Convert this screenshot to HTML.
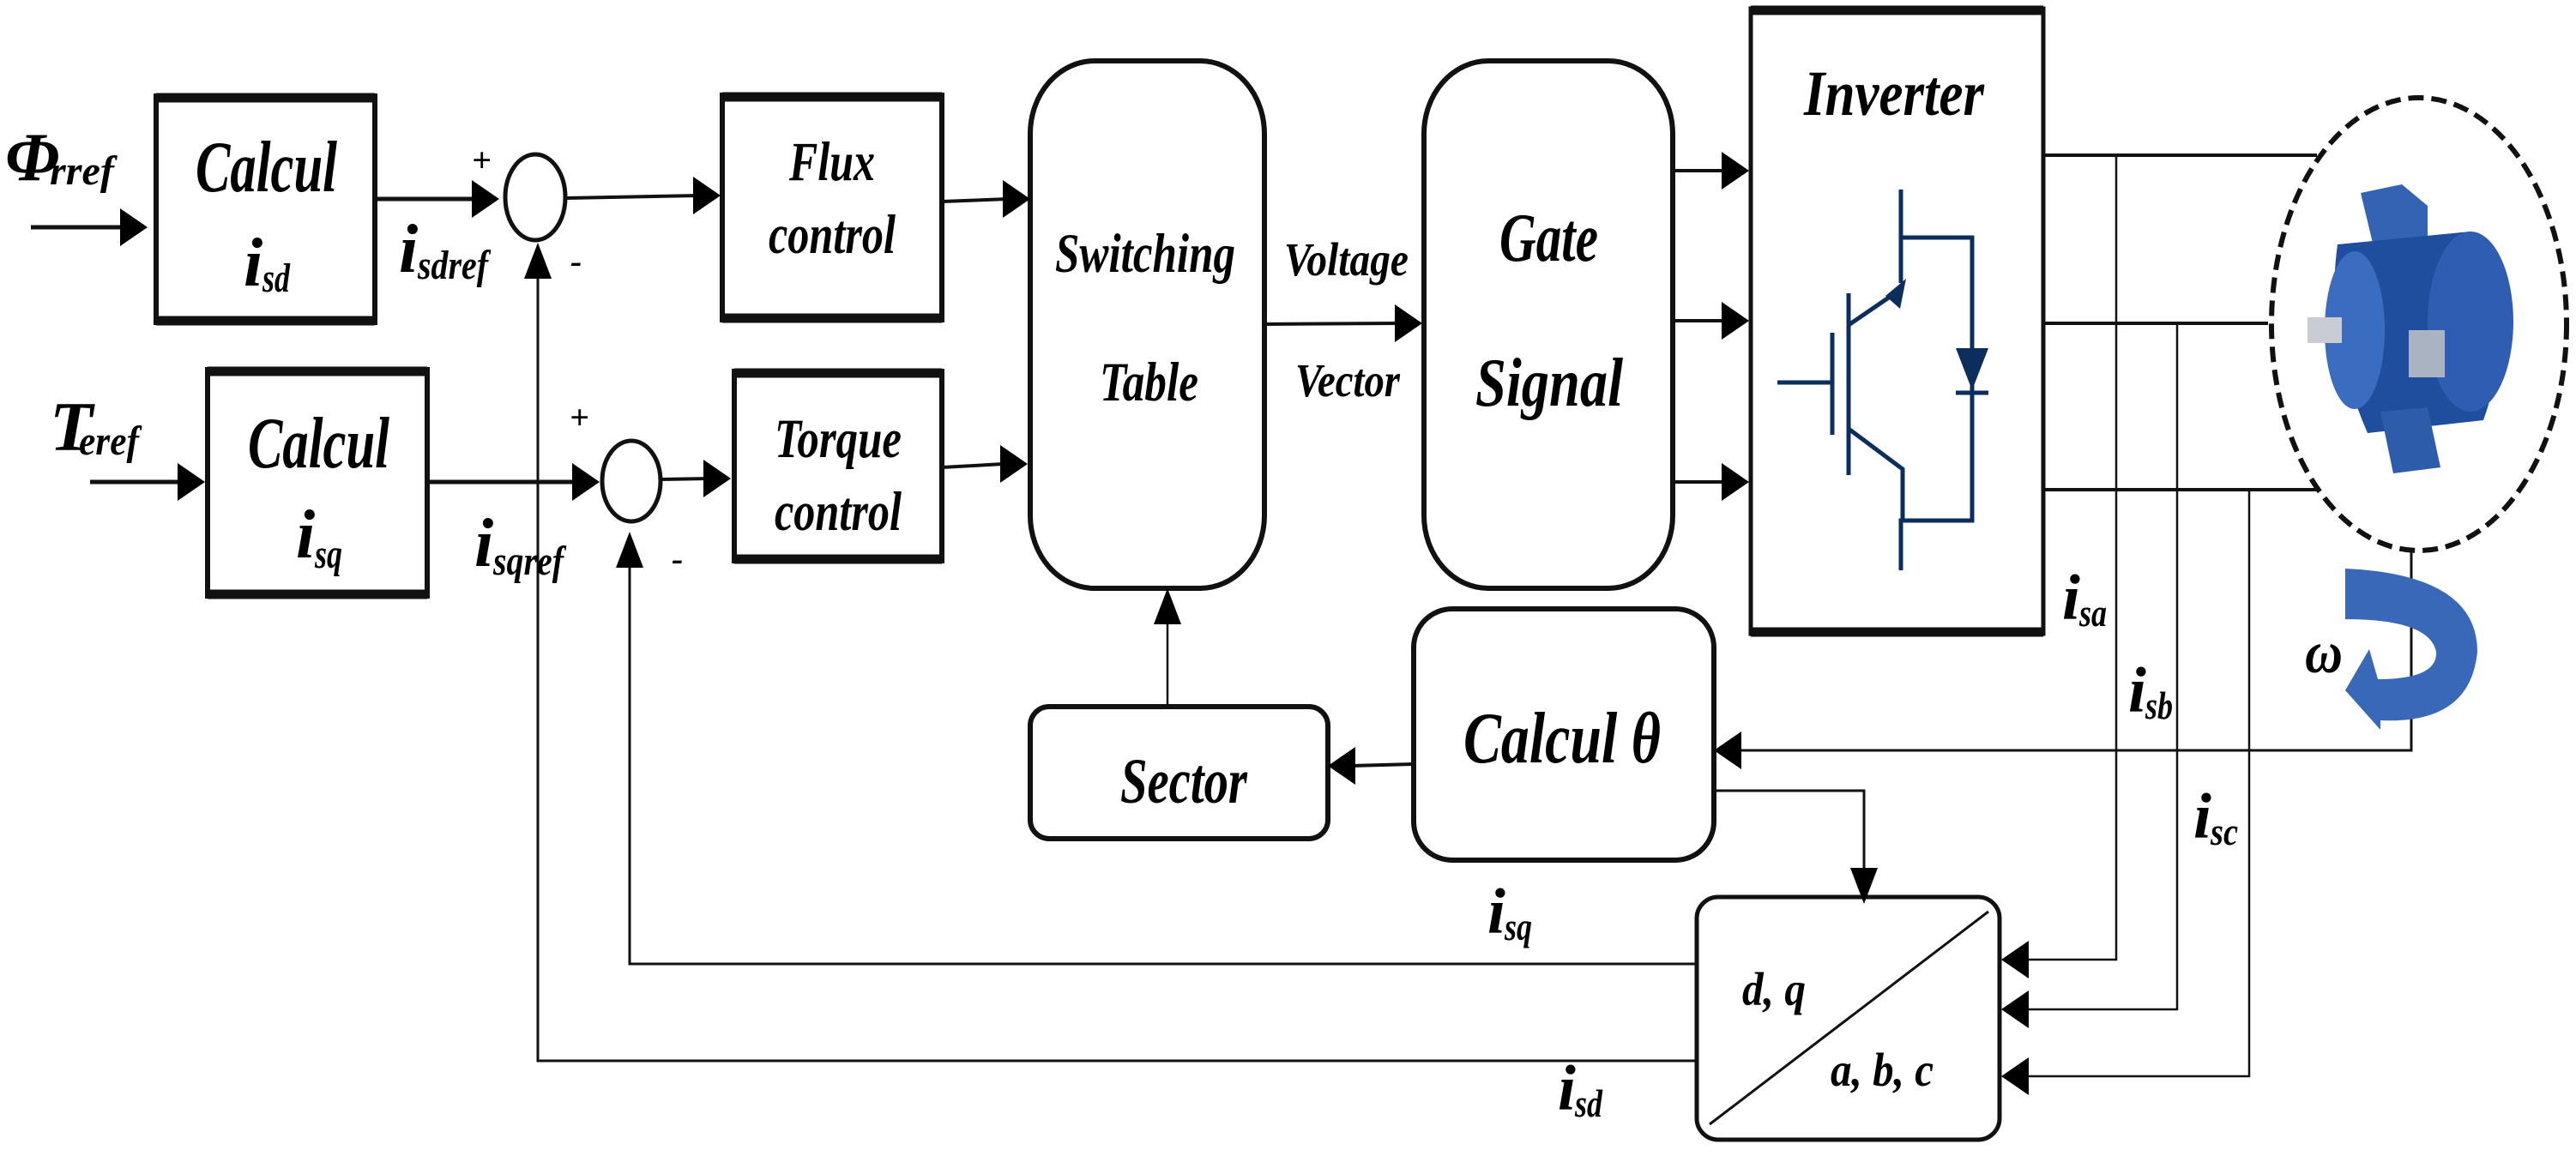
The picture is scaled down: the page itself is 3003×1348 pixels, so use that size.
<!DOCTYPE html>
<html><head><meta charset="utf-8"><style>
html,body{margin:0;padding:0;background:#fff;}
svg{display:block;}
text{font-family:"Liberation Serif",serif;font-style:italic;font-weight:bold;fill:#000;}
</style></head><body>
<svg width="3003" height="1348" viewBox="0 0 3003 1348" xmlns="http://www.w3.org/2000/svg">
<g fill="none" stroke="#111">
<!-- boxes -->
<rect x="182" y="112" width="255" height="264" stroke-width="6"/>
<rect x="242" y="431" width="256" height="264" stroke-width="6"/>
<rect x="842" y="111" width="256" height="262" stroke-width="6"/>
<rect x="856" y="433" width="242" height="221" stroke-width="6"/>
<rect x="1201" y="71" width="273" height="615" rx="75" ry="85" stroke-width="6"/>
<rect x="1660" y="71" width="290" height="615" rx="75" ry="85" stroke-width="6"/>
<rect x="2041" y="10" width="341" height="729" stroke-width="5"/>
<rect x="1201" y="824" width="347" height="154" rx="22" ry="22" stroke-width="6"/>
<rect x="1648" y="710" width="350" height="293" rx="45" ry="45" stroke-width="6"/>
<rect x="1978" y="1046" width="353" height="283" rx="25" ry="25" stroke-width="5"/>
<line x1="1993" y1="1311" x2="2318" y2="1063" stroke-width="3"/>
<!-- thick top/bottom edges -->
<g stroke-width="11">
<line x1="182" y1="114" x2="437" y2="114"/><line x1="182" y1="374" x2="437" y2="374"/>
<line x1="242" y1="433" x2="498" y2="433"/><line x1="242" y1="693" x2="498" y2="693"/>
<line x1="842" y1="113" x2="1098" y2="113"/><line x1="842" y1="371" x2="1098" y2="371"/>
<line x1="856" y1="435" x2="1098" y2="435"/><line x1="856" y1="652" x2="1098" y2="652"/>
<line x1="2041" y1="12" x2="2382" y2="12"/><line x1="2041" y1="737" x2="2382" y2="737"/>
</g>
<!-- summing circles -->
<ellipse cx="624" cy="230" rx="35" ry="50" stroke-width="5"/>
<ellipse cx="736" cy="561" rx="34" ry="47" stroke-width="5"/>
<!-- main lines -->
<line x1="36" y1="265" x2="150" y2="265" stroke-width="5"/>
<line x1="437" y1="232" x2="560" y2="232" stroke-width="5"/>
<line x1="660" y1="231" x2="815" y2="228" stroke-width="4"/>
<line x1="1098" y1="235" x2="1175" y2="232" stroke-width="4"/>
<line x1="105" y1="562" x2="215" y2="562" stroke-width="5"/>
<line x1="498" y1="562" x2="675" y2="562" stroke-width="5"/>
<line x1="770" y1="559" x2="828" y2="558" stroke-width="4"/>
<line x1="1098" y1="545" x2="1170" y2="541" stroke-width="4"/>
<line x1="1474" y1="378" x2="1630" y2="377" stroke-width="4"/>
<line x1="1950" y1="199" x2="2012" y2="199" stroke-width="4"/>
<line x1="1950" y1="374" x2="2012" y2="374" stroke-width="4"/>
<line x1="1950" y1="562" x2="2012" y2="562" stroke-width="4"/>
<!-- feedback -->
<polyline points="627,320 627,1237 1978,1237" stroke-width="3"/>
<polyline points="734,655 734,1124 1978,1124" stroke-width="3"/>
<line x1="1361" y1="824" x2="1361" y2="720" stroke-width="2.5"/>
<line x1="1648" y1="891" x2="1575" y2="893" stroke-width="4"/>
<polyline points="2811,643 2811,875 2025,875" stroke-width="3"/>
<polyline points="1998,922 2173,922 2173,1020" stroke-width="3"/>
<!-- outputs -->
<line x1="2382" y1="181" x2="2701" y2="181" stroke-width="4"/>
<line x1="2382" y1="377" x2="2644" y2="377" stroke-width="4"/>
<line x1="2382" y1="571" x2="2701" y2="571" stroke-width="4"/>
<polyline points="2467,181 2467,1119 2360,1119" stroke-width="2.5"/>
<polyline points="2538,377 2538,1177 2360,1177" stroke-width="2.5"/>
<polyline points="2622,571 2622,1255 2360,1255" stroke-width="2.5"/>
<!-- motor ellipse -->
<ellipse cx="2820" cy="378" rx="172" ry="264" stroke-width="6" stroke-dasharray="18,9"/>
</g>
<!-- arrowheads -->
<g fill="#000">
<polygon points="140,243 172,265 140,287"/>
<polygon points="550,210 582,232 550,254"/>
<polygon points="808,206 840,228 808,250"/>
<polygon points="1169,210 1201,232 1169,254"/>
<polygon points="207,540 239,562 207,584"/>
<polygon points="667,540 699,562 667,584"/>
<polygon points="820,536 852,558 820,580"/>
<polygon points="1166,519 1198,541 1166,563"/>
<polygon points="1626,355 1658,377 1626,399"/>
<polygon points="2007,177 2039,199 2007,221"/>
<polygon points="2007,352 2039,374 2007,396"/>
<polygon points="2007,540 2039,562 2007,584"/>
<polygon points="611,325 627,283 643,325"/>
<polygon points="718,662 734,620 750,662"/>
<polygon points="1345,728 1361,686 1377,728"/>
<polygon points="1580,871 1548,893 1580,915"/>
<polygon points="2030,853 1998,875 2030,897"/>
<polygon points="2157,1012 2173,1054 2189,1012"/>
<polygon points="2365,1097 2333,1119 2365,1141"/>
<polygon points="2365,1155 2333,1177 2365,1199"/>
<polygon points="2365,1233 2333,1255 2365,1277"/>
</g>
<!-- IGBT symbol -->
<g fill="none" stroke="#0b2e5c" stroke-width="5">
<polyline points="2216,221 2216,277 2299,277 2299,607 2216,607 2216,665"/>
<line x1="2216" y1="277" x2="2216" y2="330"/>
<line x1="2155" y1="379" x2="2212" y2="340"/>
<line x1="2155" y1="342" x2="2155" y2="554"/>
<line x1="2136" y1="388" x2="2136" y2="507"/>
<line x1="2072" y1="446" x2="2136" y2="446"/>
<polyline points="2155,500 2218,547 2218,607"/>
<line x1="2280" y1="458" x2="2318" y2="458"/>
</g>
<polygon points="2198,345 2222,325 2215,360" fill="#0b2e5c"/>
<polygon points="2280,406 2318,406 2299,455" fill="#0b2e5c"/>
<!-- motor picture approximation -->
<g>
<path d="M2752,225 L2800,215 L2830,240 L2830,290 L2770,300 Z" fill="#3563b3"/>
<path d="M2725,285 L2880,270 Q2935,380 2895,490 L2760,505 Q2710,390 2725,285Z" fill="#1f4e9e"/>
<ellipse cx="2880" cy="375" rx="50" ry="105" fill="#2e5db2"/>
<ellipse cx="2745" cy="385" rx="35" ry="92" fill="#3a6cc0"/>
<rect x="2808" y="385" width="42" height="55" fill="#aab3c2"/>
<rect x="2690" y="370" width="40" height="30" fill="#c9ccd2"/>
<path d="M2775,480 L2830,475 L2845,545 L2790,552Z" fill="#2d5cab"/>
</g>
<!-- rotation arrow -->
<path d="M2734,663 Q2888,670 2888,760 Q2880,845 2775,840 L2775,851 L2734,805 L2762,757 L2772,792 Q2842,792 2840,760 Q2832,722 2734,722Z" fill="#3a68b8"/>
<!-- texts -->
<text x="6" y="210" font-size="80" font-style="normal">Φ</text>
<text x="58" y="215" font-size="48" textLength="75" lengthAdjust="spacingAndGlyphs">rref</text>
<text x="58" y="525" font-size="82">T</text>
<text x="92" y="530" font-size="48" textLength="70" lengthAdjust="spacingAndGlyphs">eref</text>
<text x="228" y="223" font-size="85" textLength="165" lengthAdjust="spacingAndGlyphs">Calcul</text>
<text x="284" y="333" font-size="80">i</text>
<text x="306" y="340" font-size="48" textLength="32" lengthAdjust="spacingAndGlyphs">sd</text>
<text x="289" y="545" font-size="85" textLength="165" lengthAdjust="spacingAndGlyphs">Calcul</text>
<text x="345" y="650" font-size="80">i</text>
<text x="367" y="662" font-size="48" textLength="32" lengthAdjust="spacingAndGlyphs">sq</text>
<text x="465" y="317" font-size="80">i</text>
<text x="487" y="325" font-size="48" textLength="82" lengthAdjust="spacingAndGlyphs">sdref</text>
<text x="553" y="660" font-size="80">i</text>
<text x="575" y="670" font-size="48" textLength="82" lengthAdjust="spacingAndGlyphs">sqref</text>
<text x="550" y="200" font-size="40" font-style="normal" font-weight="normal">+</text>
<text x="664" y="500" font-size="40" font-style="normal" font-weight="normal">+</text>
<text x="665" y="318" font-size="40">-</text>
<text x="783" y="665" font-size="40">-</text>
<text x="920" y="210" font-size="65" textLength="100" lengthAdjust="spacingAndGlyphs">Flux</text>
<text x="896" y="295" font-size="65" textLength="148" lengthAdjust="spacingAndGlyphs">control</text>
<text x="903" y="533" font-size="65" textLength="148" lengthAdjust="spacingAndGlyphs">Torque</text>
<text x="903" y="618" font-size="65" textLength="148" lengthAdjust="spacingAndGlyphs">control</text>
<text x="1230" y="317" font-size="65" textLength="210" lengthAdjust="spacingAndGlyphs">Switching</text>
<text x="1282" y="467" font-size="65" textLength="115" lengthAdjust="spacingAndGlyphs">Table</text>
<text x="1497" y="321" font-size="55" textLength="145" lengthAdjust="spacingAndGlyphs">Voltage</text>
<text x="1510" y="462" font-size="55" textLength="122" lengthAdjust="spacingAndGlyphs">Vector</text>
<text x="1748" y="304" font-size="80" textLength="115" lengthAdjust="spacingAndGlyphs">Gate</text>
<text x="1720" y="473" font-size="80" textLength="172" lengthAdjust="spacingAndGlyphs">Signal</text>
<text x="2103" y="134" font-size="75" textLength="210" lengthAdjust="spacingAndGlyphs">Inverter</text>
<text x="1306" y="936" font-size="75" textLength="148" lengthAdjust="spacingAndGlyphs">Sector</text>
<text x="1706" y="889" font-size="85" textLength="230" lengthAdjust="spacingAndGlyphs">Calcul θ</text>
<text x="2031" y="1172" font-size="55" textLength="74" lengthAdjust="spacingAndGlyphs">d, q</text>
<text x="2134" y="1266" font-size="55" textLength="120" lengthAdjust="spacingAndGlyphs">a, b, c</text>
<text x="2404" y="722" font-size="75">i</text>
<text x="2424" y="730" font-size="45" textLength="32" lengthAdjust="spacingAndGlyphs">sa</text>
<text x="2481" y="830" font-size="75">i</text>
<text x="2501" y="838" font-size="45" textLength="32" lengthAdjust="spacingAndGlyphs">sb</text>
<text x="2557" y="977" font-size="75">i</text>
<text x="2577" y="985" font-size="45" textLength="32" lengthAdjust="spacingAndGlyphs">sc</text>
<text x="2687" y="784" font-size="70" textLength="44" lengthAdjust="spacingAndGlyphs">ω</text>
<text x="1734" y="1088" font-size="75">i</text>
<text x="1754" y="1096" font-size="45" textLength="32" lengthAdjust="spacingAndGlyphs">sq</text>
<text x="1816" y="1294" font-size="75">i</text>
<text x="1836" y="1302" font-size="45" textLength="32" lengthAdjust="spacingAndGlyphs">sd</text>
</svg>
</body></html>
